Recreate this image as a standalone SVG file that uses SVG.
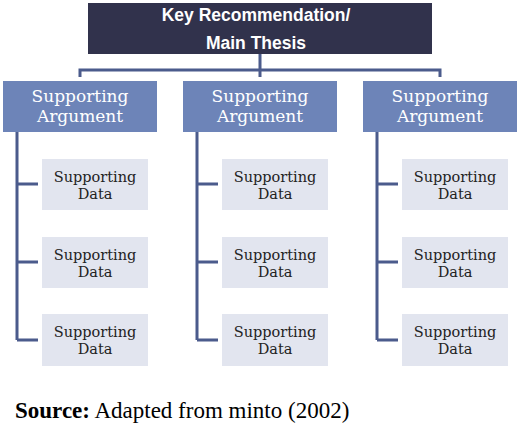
<svg xmlns="http://www.w3.org/2000/svg" width="520" height="436" viewBox="0 0 520 436">
<style>
.top{fill:#31324c}
.arg{fill:#6d84b8}
.data{fill:#e2e5ef}
.tt{font-family:"Liberation Sans",Arial,sans-serif;font-weight:bold;font-size:17.5px;fill:#fff;text-anchor:middle}
.at{font-family:"DejaVu Serif","Liberation Serif",serif;font-size:17px;fill:#fff;text-anchor:middle}
.dt{font-family:"DejaVu Serif","Liberation Serif",serif;font-size:14.5px;fill:#222;text-anchor:middle}
.conn{fill:none;stroke:#4b5b8c;stroke-width:3}
.src{font-family:"Liberation Serif","Times New Roman",serif;font-size:23px;fill:#000}
</style>
<rect width="520" height="436" fill="#fff"/>
<g id="connectors" class="conn">
<path d="M260 54V77M80 77V70H440V77"/>
<path d="M17 132V340M17 184H38M17 262H38M17 340H38"/>
<path d="M197 132V340M197 184H218M197 262H218M197 340H218"/>
<path d="M377 132V340M377 184H398M377 262H398M377 340H398"/>
</g>
<g id="main"><rect class="top" x="88" y="3" width="344" height="51"/><text class="tt" x="256" y="21">Key Recommendation/</text><text class="tt" x="256" y="49">Main Thesis</text></g>
<g id="arg1"><rect class="arg" x="3" y="81" width="154" height="51"/><text class="at" x="80" y="102">Supporting</text><text class="at" x="80" y="122">Argument</text></g>
<g id="arg2"><rect class="arg" x="183" y="81" width="154" height="51"/><text class="at" x="260" y="102">Supporting</text><text class="at" x="260" y="122">Argument</text></g>
<g id="arg3"><rect class="arg" x="363" y="81" width="154" height="51"/><text class="at" x="440" y="102">Supporting</text><text class="at" x="440" y="122">Argument</text></g>
<g id="d11"><rect class="data" x="42" y="159" width="106" height="51"/><text class="dt" x="95" y="182">Supporting</text><text class="dt" x="95" y="199">Data</text></g>
<g id="d12"><rect class="data" x="42" y="237" width="106" height="51"/><text class="dt" x="95" y="260">Supporting</text><text class="dt" x="95" y="277">Data</text></g>
<g id="d13"><rect class="data" x="42" y="314" width="106" height="52"/><text class="dt" x="95" y="337">Supporting</text><text class="dt" x="95" y="354">Data</text></g>
<g id="d21"><rect class="data" x="222" y="159" width="106" height="51"/><text class="dt" x="275" y="182">Supporting</text><text class="dt" x="275" y="199">Data</text></g>
<g id="d22"><rect class="data" x="222" y="237" width="106" height="51"/><text class="dt" x="275" y="260">Supporting</text><text class="dt" x="275" y="277">Data</text></g>
<g id="d23"><rect class="data" x="222" y="314" width="106" height="52"/><text class="dt" x="275" y="337">Supporting</text><text class="dt" x="275" y="354">Data</text></g>
<g id="d31"><rect class="data" x="402" y="159" width="106" height="51"/><text class="dt" x="455" y="182">Supporting</text><text class="dt" x="455" y="199">Data</text></g>
<g id="d32"><rect class="data" x="402" y="237" width="106" height="51"/><text class="dt" x="455" y="260">Supporting</text><text class="dt" x="455" y="277">Data</text></g>
<g id="d33"><rect class="data" x="402" y="314" width="106" height="52"/><text class="dt" x="455" y="337">Supporting</text><text class="dt" x="455" y="354">Data</text></g>
<text class="src" x="15" y="418"><tspan font-weight="bold">Source:</tspan> Adapted from minto (2002)</text>
</svg>
